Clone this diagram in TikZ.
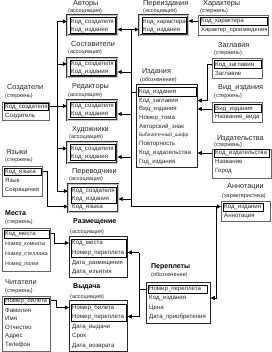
\documentclass[tikz,border=0pt]{standalone}
\usepackage{fontspec}
\setmainfont{Liberation Sans}
\usetikzlibrary{arrows.meta}
\tikzset{
  rowtxt/.style={anchor=west, inner sep=0pt, text=black!85, font=\fontsize{6.1}{6.5}\selectfont, text height=4.3pt, text depth=1.2pt},
  ttl/.style={anchor=west, inner sep=0pt, text=black!85, font=\fontsize{7.3}{8}\selectfont},
  bttl/.style={anchor=west, inner sep=0pt, font=\bfseries\fontsize{7}{8}\selectfont},
  subt/.style={anchor=west, inner sep=0pt, text=black!85, font=\fontsize{5.5}{6}\selectfont},
  plain/.style={draw=black!60, line width=0.6pt, inner sep=0pt},
  ent/.style={draw=black!85, line width=0.7pt, inner sep=0pt},
  assoc/.style={draw=black!80, line width=0.5pt, double=gray!45, double distance=1.1pt, inner sep=0pt},
  keyb/.style={draw=black, line width=0.7pt, inner sep=0pt},
  link/.style={draw=black, line width=0.7pt},
  arr/.style={draw=black, line width=0.7pt, -{Triangle[length=4.2pt,width=4pt]}}
}
\newcommand{\mytab}[6]{\node[#2, anchor=north west, minimum width=#5pt, minimum height=#6pt] (#1) at (#3,#4) {};}
\newcommand{\mykey}[5]{\node[keyb, anchor=north west, minimum width=#4pt, minimum height=#5pt] (#1) at (#2,#3) {};}
\newcommand{\myrow}[4]{\node[rowtxt] (#1) at (#2,#3) {#4};}
\begin{document}
\begin{tikzpicture}[x=1pt,y=-1pt]
\useasboundingbox[fill=white] (0,0) rectangle (271,352);

% ---------- Авторы
\node[ttl] (avtT) at (73,3.5) {Авторы};
\node[subt] (avtS) at (68,11) {(ассоциация)};
\mytab{avt}{assoc}{67}{15}{50}{20}
\mykey{avtK}{69.5}{17.5}{45}{15.5}
\myrow{avt1}{71}{21.5}{Код\_создателя}
\myrow{avt2}{71}{29.5}{Код\_издания}

% ---------- Составители
\node[ttl] (sostT) at (71,44) {Составители};
\node[subt] (sostS) at (68,52) {(ассоциация)};
\mytab{sost}{assoc}{67}{58}{50}{19}
\mykey{sostK}{69.5}{60.5}{45}{14.5}
\myrow{sost1}{71}{64}{Код\_создателя}
\myrow{sost2}{71}{72}{Код\_издания}

% ---------- Редакторы
\node[ttl] (redT) at (72,87) {Редакторы};
\node[subt] (redS) at (68,95) {(ассоциация)};
\mytab{red}{assoc}{67}{100}{50}{20}
\mykey{redK}{69.5}{102.5}{45}{15}
\myrow{red1}{71}{106}{Код\_создателя}
\myrow{red2}{71}{114}{Код\_издания}

% ---------- Художники
\node[ttl] (hudT) at (72,130) {Художники};
\node[subt] (hudS) at (69,137) {(ассоциация)};
\mytab{hud}{assoc}{67}{142}{50}{21}
\mykey{hudK}{69.5}{144.5}{45}{16}
\myrow{hud1}{71}{148.5}{Код\_создателя}
\myrow{hud2}{71}{157}{Код\_издания}

% ---------- Переводчики
\node[ttl] (pervT) at (72,172) {Переводчики};
\node[subt] (pervS) at (69,179) {(ассоциация)};
\mytab{perv}{assoc}{68}{184}{50}{28}
\mykey{pervK}{70.5}{187}{45}{15.5}
\myrow{perv1}{72}{191}{Код\_создателя}
\myrow{perv2}{72}{199}{Код\_издания}
\myrow{perv3}{72}{206.5}{Код\_языка}

% ---------- Создатели
\node[ttl] (sozT) at (7,88) {Создатели};
\node[subt] (sozS) at (5,96) {(стержень)};
\mytab{soz}{plain}{2}{102}{47}{18}
\mykey{sozK}{3.5}{103.5}{44}{7}
\myrow{soz1}{5}{106.5}{Код\_создателя}
\myrow{soz2}{5}{115.5}{Создатель}

% ---------- Языки
\node[ttl] (yazT) at (6,152) {Языки};
\node[subt] (yazS) at (5,160) {(стержень)};
\mytab{yaz}{plain}{2}{166}{40}{30}
\mykey{yazK}{3.5}{168}{37}{7.5}
\myrow{yaz1}{5}{171.5}{Код\_языка}
\myrow{yaz2}{5}{181}{Язык}
\node[rowtxt, font=\fontsize{5.8}{6}\selectfont] (yaz3) at (5,190) {Сокращения};

% ---------- Места
\node[bttl] (mesT) at (5,213) {Места};
\node[subt] (mesS) at (5,222) {(стержень)};
\mytab{mes}{plain}{2}{228}{48}{43}
\mykey{mesK}{3.5}{229.5}{45}{8}
\node[rowtxt] (mes1) at (5,233.5) {Код\_места};
\node[rowtxt, font=\fontsize{5.3}{6}\selectfont] (mes2) at (5,244) {Номер\_комнаты};
\node[rowtxt, font=\fontsize{5.3}{6}\selectfont] (mes3) at (5,254) {Номер\_стеллажа};
\node[rowtxt, font=\fontsize{5.3}{6}\selectfont] (mes4) at (5,263.5) {Номер\_полки};

% ---------- Читатели
\node[ttl] (chtT) at (5,282) {Читатели};
\node[subt] (chtS) at (5,291) {(стержень)};
\mytab{cht}{plain}{2}{296}{48}{55}
\mykey{chtK}{3.5}{297.5}{45}{6.5}
\myrow{cht1}{5}{300.5}{Номер\_билета}
\myrow{cht2}{5}{310.5}{Фамилия}
\myrow{cht3}{5}{319}{Имя}
\myrow{cht4}{5}{328}{Отчество}
\myrow{cht5}{5}{336}{Адрес}
\myrow{cht6}{5}{345}{Телефон}

% ---------- Размещение
\node[bttl] (razT) at (73,222) {Размещение};
\node[subt] (razS) at (70,232) {(ассоциация)};
\mytab{raz}{ent}{69}{236}{58}{41}
\mykey{razK}{70.5}{238.5}{55}{18}
\myrow{raz1}{72}{243}{Код\_места}
\myrow{raz2}{72}{252.5}{Номер\_переплета}
\node[rowtxt, font=\fontsize{5.9}{6}\selectfont] (raz3) at (72,262.5) {Дата\_размещения};
\myrow{raz4}{72}{271.5}{Дата\_изъятия}

% ---------- Выдача
\node[bttl] (vydT) at (73,287) {Выдача};
\node[subt] (vydS) at (70,297) {(ассоциация)};
\mytab{vyd}{ent}{69}{300}{58}{51}
\mykey{vydK}{70.5}{303.5}{55}{17}
\myrow{vyd1}{72}{307.5}{Номер\_билета}
\myrow{vyd2}{72}{316.5}{Номер\_переплета}
\myrow{vyd3}{72}{327}{Дата\_выдачи}
\myrow{vyd4}{72}{336}{Срок}
\myrow{vyd5}{72}{345.5}{Дата\_возврата}

% ---------- Переплеты
\node[bttl] (ppT) at (151,267) {Переплеты};
\node[subt] (ppS) at (151,275) {(обозначение)};
\mytab{pp}{ent}{146}{282}{64}{41}
\mykey{ppK}{147.5}{284.5}{59}{8.5}
\myrow{pp1}{149}{289}{Номер\_переплета}
\myrow{pp2}{149}{298}{Код\_издания}
\myrow{pp3}{149}{307.5}{Цена}
\myrow{pp4}{149}{316.5}{Дата\_приобретения}

% ---------- Аннотации
\node[ttl] (annT) at (227,187) {Аннотации};
\node[subt] (annS) at (222,196) {(характеристика)};
\mytab{ann}{plain}{221}{201}{49}{20}
\mykey{annK}{222.5}{203}{40}{7.5}
\myrow{ann1}{224}{206.5}{Код\_издания}
\myrow{ann2}{224}{215.5}{Аннотация}

% ---------- Издательства
\node[ttl] (idsT) at (217,138.5) {Издательства};
\node[subt] (idsS) at (214,145.5) {(стержень)};
\mytab{ids}{plain}{212}{149}{58.5}{29}
\mykey{idsK}{213.5}{149.5}{55.5}{7.5}
\myrow{ids1}{215}{153}{Код\_издательства}
\myrow{ids2}{215}{162}{Название}
\myrow{ids3}{215}{171}{Город}

% ---------- Вид_издания
\node[ttl] (vidT) at (218,88) {Вид\_издания};
\node[subt] (vidS) at (214,96) {(стержень)};
\mytab{vid}{plain}{212}{102}{50}{20}
\mykey{vidK}{213.5}{104.5}{47}{7.5}
\myrow{vid1}{215}{108.5}{Вид\_издания}
\myrow{vid2}{215}{117}{Название\_вида}

% ---------- Заглавия
\node[ttl] (zagT) at (218,45) {Заглавия};
\node[subt] (zagS) at (214,53) {(стержень)};
\mytab{zag}{plain}{212}{58}{50}{20}
\mykey{zagK}{213.5}{60.5}{47}{8}
\myrow{zag1}{215}{64.5}{Код\_заглавия}
\myrow{zag2}{215}{74}{Заглавие}

% ---------- Характеры
\node[ttl] (harT) at (203,3.5) {Характеры};
\node[subt] (harS) at (200,11) {(стержень)};
\mytab{har}{plain}{198}{15}{70}{20}
\mykey{harK}{199.5}{17}{67}{8}
\myrow{har1}{201}{21}{Код\_характера}
\node[rowtxt, font=\fontsize{5.8}{6}\selectfont] (har2) at (201,30) {Характер\_произведения};

% ---------- Переиздания
\node[ttl] (priT) at (143,3.5) {Переиздания};
\node[subt] (priS) at (143,11) {(ассоциация)};
\mytab{pri}{assoc}{139}{15}{49}{20}
\mykey{priK}{141.5}{17.5}{44}{15.5}
\myrow{pri1}{143}{21.5}{Код\_характера}
\myrow{pri2}{143}{29.5}{Код\_издания}

% ---------- Издания
\node[ttl] (izdT) at (142,72) {Издания};
\node[subt] (izdS) at (140,80) {(обозначение)};
\mytab{izd}{ent}{136}{84}{61}{83}
\mykey{izdK}{137.5}{87.5}{58}{8.5}
\myrow{izd1}{139}{92}{Код\_издания}
\myrow{izd2}{139}{100.5}{Код\_заглавия}
\myrow{izd3}{139}{109}{Вид\_издания}
\myrow{izd4}{139}{118}{Номер\_тома}
\myrow{izd5}{139}{127}{Авторский\_знак}
\node[rowtxt, font=\fontsize{4.9}{6}\selectfont] (izd6) at (139,135) {Библиотечный\_шифр};
\myrow{izd7}{139}{144}{Повторность}
\myrow{izd8}{139}{153}{Код\_издательства}
\myrow{izd9}{139}{161.5}{Год\_издания}

% ---------- junction coordinates
\coordinate (jA) at (57,0);
\coordinate (jB) at (131,0);
\coordinate (jC) at (216,0);
\coordinate (jD) at (207,0);
\coordinate (jE) at (47,0);
\coordinate (jF) at (54,0);
\coordinate (jG) at (56,0);
\coordinate (jH) at (139,0);

% ---------- Создатели -> associations
\draw[link] (soz.east |- soz1) -- (jA |- soz1);
\draw[link] (jA |- avt1) -- (jA |- perv1);
\draw[arr] (jA |- avt1) -- (avt.west |- avt1);
\draw[arr] (jA |- sost1) -- (sost.west |- sost1);
\draw[arr] (jA |- red1) -- (red.west |- red1);
\draw[arr] (jA |- hud1) -- (hud.west |- hud1);
\draw[arr] (jA |- perv1) -- (perv.west |- perv1);

% ---------- Издания -> associations, Аннотации, Переплеты
\draw[link] (izd.west |- izd1) -- (jB |- izd1);
\draw[link] (jB |- avt2) -- (jB |- ann1);
\draw[arr] (jB |- avt2) -- (avt.east |- avt2);
\draw[arr] (jB |- avt2) -- (pri.west |- avt2);
\draw[arr] (jB |- sost2) -- (sost.east |- sost2);
\draw[arr] (jB |- red2) -- (red.east |- red2);
\draw[arr] (jB |- hud2) -- (hud.east |- hud2);
\draw[arr] (jB |- perv2) -- (perv.east |- perv2);
\draw[arr] (jB |- ann1) -- (ann.west |- ann1);
\draw[arr] (jC |- ann1) -- (jC |- pp2) -- (pp.east |- pp2);

% ---------- Характеры -> Переиздания
\draw[arr] (har.west |- har1) -- (pri.east |- har1);

% ---------- стержни -> Издания
\draw[arr] (zag.west |- zag1) -- (jD |- zag1) -- (jD |- izd2) -- (izd.east |- izd2);
\draw[arr] (vid.west |- izd3) -- (izd.east |- izd3);
\draw[arr] (ids.west |- izd8) -- (izd.east |- izd8);

% ---------- Языки -> Переводчики
\draw[arr] (yaz.east |- yaz1) -- (jE |- yaz1) -- (jE |- perv3) -- (perv.west |- perv3);

% ---------- Места -> Размещение
\draw[arr] (mes.east |- mes1) -- (jF |- mes1) -- (jF |- raz1) -- (raz.west |- raz1);

% ---------- Читатели -> Выдача
\draw[arr] (cht.east |- cht1) -- (jG |- cht1) -- (jG |- vyd1) -- (vyd.west |- vyd1);

% ---------- Переплеты -> Размещение, Выдача
\draw[link] (pp.west |- pp1) -- (jH |- pp1);
\draw[link] (jH |- raz2) -- (jH |- vyd2);
\draw[arr] (jH |- raz2) -- (raz.east |- raz2);
\draw[arr] (jH |- vyd2) -- (vyd.east |- vyd2);
\end{tikzpicture}
\end{document}
